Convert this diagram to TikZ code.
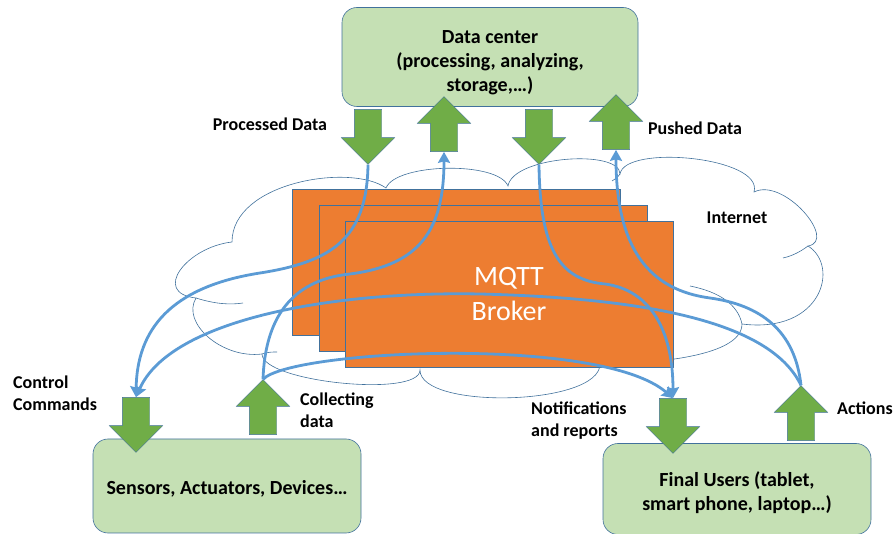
\documentclass[tikz,border=0pt]{standalone}
\usepackage{fontspec}
\setmainfont{Carlito}
\usetikzlibrary{shapes.arrows,arrows.meta}

\definecolor{boxgreen}{HTML}{C5E0B4}
\definecolor{leafgreen}{HTML}{70AD47}
\definecolor{brokerorange}{HTML}{ED7D31}
\definecolor{linkblue}{HTML}{5B9BD5}
\definecolor{edgeblue}{HTML}{41719C}

\begin{document}
\begin{tikzpicture}[x=1pt, y=-1pt, >={Stealth[length=11pt,width=12pt,inset=1.5pt]},
        box/.style={draw=edgeblue, line width=0.6pt, fill=boxgreen, rounded corners=15pt, align=center, inner sep=0pt, font=\fontsize{20}{24}\selectfont\bfseries},
        garrow/.style={single arrow, draw=edgeblue, line width=0.4pt, fill=leafgreen, inner xsep=0pt, inner ysep=13.5pt, minimum height=55pt, minimum width=53pt, single arrow head extend=13pt},
        broker/.style={draw=edgeblue, line width=0.6pt, fill=brokerorange, minimum width=328pt, minimum height=146pt, inner sep=0pt},
        tagtext/.style={inner sep=0pt, align=left, font=\fontsize{18}{22}\selectfont\bfseries},
        flow/.style={draw=linkblue, line width=2.8pt, ->},
        cloudline/.style={draw=edgeblue, line width=0.6pt}]
    \useasboundingbox (0,0) rectangle (895,534);

    % Cloud
    \draw[cloudline] (232,242)
        .. controls +(0,-60) and +(-35,-25) .. (386,188)
        .. controls +(10,-25) and +(-10,-25) .. (508,186)
        .. controls +(5,-30) and +(0,-25) .. (620,174)
        .. controls +(5,-30) and +(10,-35) .. (754,192)
        .. controls +(30,-15) and +(30,-5) .. (808,246)
        .. controls +(32,20) and +(80,10) .. (742,324)
        .. controls +(0,35) and +(40,0) .. (600,364)
        .. controls +(0,42) and +(0,40) .. (420,370)
        .. controls +(0,28) and +(0,28) .. (262,354)
        .. controls +(-40,5) and +(-15,25) .. (196,298)
        .. controls +(-45,-5) and +(-45,5) .. (232,242);
    \draw[cloudline] (196,298) .. controls (215,304) and (230,305) .. (243,303);
    \draw[cloudline] (262,354) .. controls (268,352) and (272,352) .. (277,352);
    \draw[cloudline] (620,174) .. controls (618,177) .. (612,181);
    \draw[cloudline] (808,246) .. controls (800,252) and (792,256) .. (783,258);
    \draw[cloudline] (690,286) .. controls (720,292) and (738,305) .. (742,324);

    % Broker
    \node[broker] (r1) at (456,262) {};
    \node[broker] (r2) at (483,278) {};
    \node[broker, text=white, align=center, font=\fontsize{28}{35}\selectfont] (r3) at (509,294) {MQTT\\Broker};

    % Boxes
    \node[box, minimum width=296pt, minimum height=99pt] (dc) at (490,57) {\rule{0pt}{24pt}Data center\\(processing, analyzing,\\storage,…)};
    \node[box, minimum width=268pt, minimum height=94pt] (sens) at (227,486) {\rule{0pt}{20pt}Sensors, Actuators, Devices…};
    \node[box, minimum width=268pt, minimum height=91pt] (users) at (737,489) {\rule{0pt}{22pt}Final Users (tablet,\\smart phone, laptop…)};

    % Block arrows
    \node[garrow, rotate=-90] (a1) at (368,130) {};
    \node[garrow, rotate=90] (a2) at (444,131) {};
    \node[garrow, rotate=-90] (a3) at (539,130) {};
    \node[garrow, rotate=90] (a4) at (616,129) {};
    \node[garrow, rotate=-90] (b1) at (136,418) {};
    \node[garrow, rotate=90] (b2) at (263,414) {};
    \node[garrow, rotate=-90] (c1) at (673,419) {};
    \node[garrow, rotate=90] (c2) at (801,420) {};

    % Flows
    \draw[flow] (a1.tip) .. controls (367,240) and (330,262) .. (260,273) .. controls (170,287) and (137,330) .. (b1.tail);
    \draw[flow] (b2.tip) .. controls (265,320) and (290,280) .. (350,274) .. controls (420,265) and (444,230) .. (a2.tail);
    \draw[flow] (b2.tip) .. controls (290,350) and (600,335) .. (c1.tail);
    \draw[flow] (a3.tip) .. controls (540,250) and (560,280) .. (605,284) .. controls (650,290) and (673,330) .. (c1.tail);
    \draw[flow] (c2.tip) .. controls (795,330) and (760,305) .. (710,298) .. controls (650,290) and (616,250) .. (a4.tail);
    \draw[flow] (c2.tip) .. controls (770,320) and (640,298) .. (480,294) .. controls (330,291) and (170,320) .. (b1.tail);

    % Labels
    \node[tagtext] (proc) at (270,124) {Processed Data};
    \node[tagtext] (push) at (695,128) {Pushed Data};
    \node[tagtext] (inet) at (737,218) {Internet};
    \node[tagtext, anchor=west] (ctrl) at (13,393) {Control\\Commands};
    \node[tagtext, anchor=west] (coll) at (300,410) {Collecting\\data};
    \node[tagtext, anchor=west] (noti) at (531,421) {Notifications\\and reports};
    \node[tagtext, anchor=west] (act) at (837,408) {Actions};
\end{tikzpicture}
\end{document}
